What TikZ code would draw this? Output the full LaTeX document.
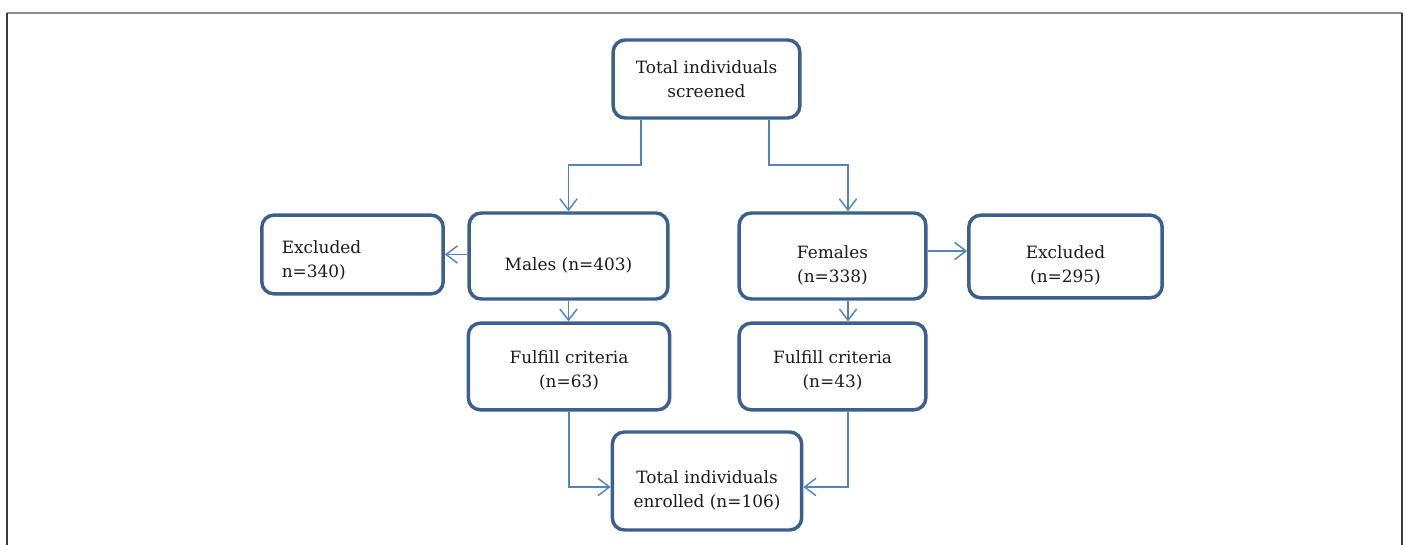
\documentclass[tikz,border=0pt]{standalone}
\usepackage{fontspec}
\setmainfont{DejaVu Serif}
\usetikzlibrary{arrows.meta}
\definecolor{boxblue}{RGB}{59,96,144}
\definecolor{lineblue}{RGB}{84,132,192}
\definecolor{txtgray}{RGB}{26,26,26}
\newcommand{\lowtext}[2]{\raisebox{-#1}[\height][\depth]{\begin{tabular}{@{}c@{}}#2\end{tabular}}}
\begin{document}
\begin{tikzpicture}[x=0.75pt,y=0.75pt,yscale=-1,xscale=1,
  flowbox/.style={draw=boxblue, line width=2.6pt, rounded corners=9pt, fill=white,
    text=txtgray, align=center, inner sep=0pt,
    font=\fontsize{12.7}{18}\selectfont},
  conn/.style={draw=lineblue, line width=1.1pt, -{Straight Barb[length=8.5pt,width=13pt]}}]
      \useasboundingbox (0,0) rectangle (1407,545);
      %page frame (no line at the bottom)
      \draw[color={rgb,255:red,138;green,138;blue,138}, line width=1.5pt] (7,13) -- (1402,13);
      \draw[color={rgb,255:red,58;green,58;blue,58}, line width=1.5pt] (7,13) -- (7,545) (1402,13) -- (1402,545);

      % Top box
      \node[flowbox, minimum width=140pt, minimum height=58.5pt] (screened) at (706.5,79) {Total individuals\\screened};
      % Second row
      \node[flowbox, minimum width=149pt, minimum height=64.5pt] (males) at (568.5,256) {\lowtext{7pt}{Males (n=403)}};
      \node[flowbox, minimum width=140pt, minimum height=64.5pt] (females) at (832.5,256) {\lowtext{7.5pt}{Females\\(n=338)}};
      \node[flowbox, minimum width=136pt, minimum height=59pt, align=left, text width=106pt] (exclM) at (352.5,254.5) {\raisebox{-5pt}[\height][\depth]{\begin{tabular}{@{}l@{}}Excluded\\n=340)\end{tabular}}};
      \node[flowbox, minimum width=145pt, minimum height=62pt] (exclF) at (1065.5,256.5) {\lowtext{7pt}{Excluded\\(n=295)}};
      % Third row
      \node[flowbox, minimum width=151pt, minimum height=65pt] (fulfillM) at (569,366.5) {\lowtext{3pt}{Fulfill criteria\\(n=63)}};
      \node[flowbox, minimum width=140pt, minimum height=65pt] (fulfillF) at (832.5,366.5) {\lowtext{3pt}{Fulfill criteria\\(n=43)}};
      % Bottom box
      \node[flowbox, minimum width=142pt, minimum height=73.5pt] (enrolled) at (707,481) {\lowtext{7.5pt}{Total individuals\\enrolled (n=106)}};

      %split points under the top box
      \coordinate (splitL) at (641,165);
      \coordinate (splitR) at (769,165);
      \coordinate (colR) at (848,0);

      \draw[conn] (screened.south -| splitL) -- (splitL) -| (males.north);
      \draw[conn] (screened.south -| splitR) -- (splitR) -| (females.north -| colR);
      \draw[conn] (males.west |- exclM.east) -- (exclM.east);
      \draw[conn] ([yshift=-3.75pt]females.east) -- ([yshift=-3.75pt]females.east -| exclF.west);
      \draw[conn] (males.south) -- (males.south |- fulfillM.north);
      \draw[conn] (females.south -| colR) -- (fulfillF.north -| colR);
      \draw[conn] (fulfillM.south) |- ([yshift=4.5pt]enrolled.west);
      \draw[conn] (fulfillF.south -| colR) |- ([yshift=4.5pt]enrolled.east);
\end{tikzpicture}
\end{document}
